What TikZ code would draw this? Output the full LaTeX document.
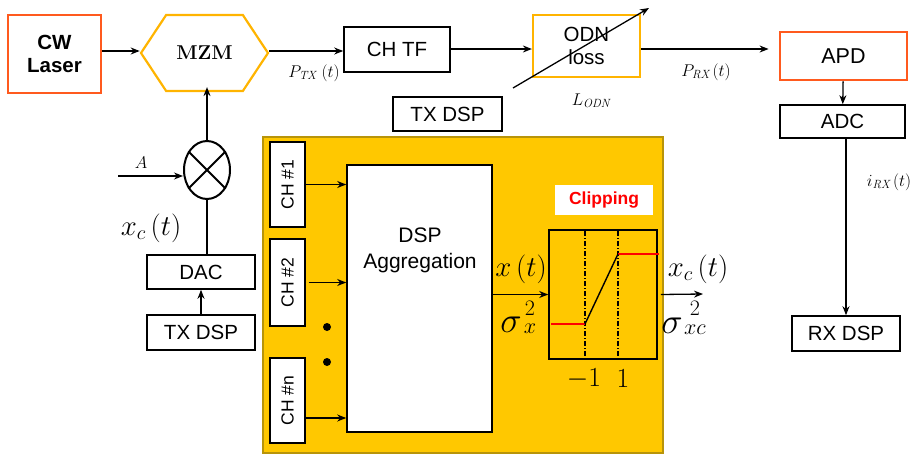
\RequirePackage{fix-cm}
\documentclass[tikz,border=0pt]{standalone}
\usepackage{fontspec}
\setsansfont{Liberation Sans}
\usetikzlibrary{arrows.meta,shapes.geometric,shapes.symbols}
\definecolor{laserred}{HTML}{FF5A1E}
\definecolor{mzmorange}{HTML}{FFB400}
\definecolor{yfill}{HTML}{FFC800}
\definecolor{yborder}{HTML}{B8940A}
\begin{document}
\begin{tikzpicture}[x=1pt,y=-1pt,
  box/.style={draw=black,line width=1.6pt,fill=white,inner sep=0pt,font=\sffamily\fontsize{20.5}{23}\selectfont,align=center},
  obox/.style={box,draw=laserred,line width=2.8pt},
  ybox/.style={box,draw=mzmorange,line width=2.2pt},
  chbox/.style={box,line width=1.4pt,minimum width=35pt,font=\sffamily\fontsize{17.5}{19}\selectfont},
  arr/.style={-{Stealth[length=9pt,width=7pt]},line width=1.3pt},
  lab/.style={inner sep=0pt,font=\fontsize{17}{19}\selectfont},
  biglab/.style={inner sep=0pt,font=\fontsize{24}{26}\selectfont},
  siglab/.style={inner sep=0pt,font=\fontsize{24}{26}\selectfont},
  suplab/.style={inner sep=0pt,font=\fontsize{17}{18}\selectfont},
  sublab/.style={inner sep=0pt,font=\fontsize{17}{18}\selectfont},
  ddot/.style={line width=1.2pt,dash pattern=on 5pt off 2pt on 1pt off 2pt}
]
\useasboundingbox (0,0) rectangle (911,458);
% yellow TX DSP frame
\node[draw=yborder,fill=yfill,line width=2pt,minimum width=400pt,minimum height=316pt,inner sep=0pt] (frame) at (463,295) {};
% top row
\node[obox,minimum width=93pt,minimum height=78pt,font=\sffamily\bfseries\fontsize{20.5}{23}\selectfont] (cw) at (54.5,54) {CW\\Laser};
\node[draw=mzmorange,line width=2.2pt,fill=white,shape=signal,signal to=west and east,signal pointer angle=113,minimum width=127pt,minimum height=76pt,inner sep=0pt,font=\rmfamily\bfseries\fontsize{20}{22}\selectfont] (mzm) at (204.5,53) {MZM};
\node[box,minimum width=106pt,minimum height=45pt] (chtf) at (397,49.5) {CH TF};
\node[ybox,minimum width=107pt,minimum height=62pt] (odn) at (586.5,46) {ODN\\loss};
\node[obox,minimum width=127pt,minimum height=48pt,font=\sffamily\fontsize{21.5}{23}\selectfont] (apd) at (843.5,56) {APD};
\node[box,minimum width=125pt,minimum height=33pt] (adc) at (842.5,121.5) {ADC};
\node[box,minimum width=108pt,minimum height=35pt] (rxdsp) at (846,333.5) {RX DSP};
\node[box,line width=2.4pt,minimum width=109pt,minimum height=34pt] (txdsptop) at (447.5,114) {TX DSP};
% left modulation chain
\node[draw,ellipse,line width=2pt,minimum width=46pt,minimum height=58pt,inner sep=0pt] (mult) at (207,170) {};
\draw[line width=2pt] (mult.45) -- (mult.225) (mult.135) -- (mult.315);
\node[box,minimum width=108pt,minimum height=34pt] (dac) at (201,272) {DAC};
\node[box,minimum width=108pt,minimum height=35pt] (txdsp) at (201,332.5) {TX DSP};
\coordinate (ain) at (118,176);
% channels
\node[chbox,minimum height=85pt] (ch1) at (287.5,184.5) {\rotatebox{90}{CH \#1}};
\node[chbox,minimum height=87pt] (ch2) at (287.5,282.5) {\rotatebox{90}{CH \#2}};
\node[chbox,minimum height=85pt] (chn) at (287.5,400.5) {\rotatebox{90}{CH \#n}};
\fill (327,327) circle (4pt) (327,362) circle (4pt);
\node[box,minimum width=145pt,minimum height=267pt] (agg) at (419.5,298.5) {};
\node[inner sep=0pt,align=center,font=\sffamily\fontsize{21}{26}\selectfont] (aggtxt) at (420,250) {DSP\\Aggregation};
% clipping
\node[draw,line width=1.6pt,fill=yfill,minimum width=108pt,minimum height=129pt,inner sep=0pt] (clip) at (603,294.5) {};
\node[fill=white,minimum width=98pt,minimum height=30pt,inner sep=0pt,text=red,font=\sffamily\bfseries\fontsize{17.5}{19}\selectfont] (cliplab) at (604,200) {Clipping};
\draw[ddot] (585,231) -- (585,358) (618,231) -- (618,358);
\draw[red,line width=1.4pt] (551,324) -- (585,324) (618,254) -- (659,254);
\draw[line width=1.4pt] (585,324) -- (618,254);
\node[biglab] (m1) at (584,379) {\scalebox{1.15}{$-1$}};
\node[biglab] (p1) at (623,379) {\scalebox{1.15}{$1$}};
\coordinate (xcout) at (703,294);
% connectors
\draw[arr] (cw.east |- 0,51) -- (mzm.west |- 0,51);
\draw[arr] (mzm.east |- 0,51) -- (chtf.west |- 0,51);
\draw[arr] (chtf.east |- 0,49) -- (odn.west |- 0,49);
\draw[arr] (odn.east |- 0,49) -- ([xshift=-10pt]apd.west |- 0,49);
\draw[arr] (apd) -- (adc);
\draw[arr] (adc.south -| rxdsp.north) -- (rxdsp.north);
\draw[arr] (mult.north) -- ([yshift=5pt]mult.north |- mzm.south);
\draw[arr] (ain) -- (mult.west |- ain);
\draw[line width=1.3pt] (dac.north -| mult.south) -- (mult.south);
\draw[arr] (txdsp) -- (dac);
\draw[arr] (ch1.east) -- (ch1.east -| agg.west);
\draw[arr] ([xshift=3pt]ch2.east) -- (ch2.east -| agg.west);
\draw[arr] ([yshift=-17.5pt]chn.east) -- ([yshift=-17.5pt]chn.east -| agg.west);
\draw[arr] (agg.east |- clip.west) -- (clip.west);
\draw[arr] ([xshift=3pt]clip.east) -- (xcout);
\coordinate (odnA) at (513,88);
\coordinate (odnB) at (649,8);
\draw[arr] (odnA) -- (odnB);
% labels
\node[lab] (ptx) at (314,73) {$P_{\mathit{TX}}\ (t)$};
\node[lab] (prx) at (706,72) {$P_{\mathit{RX}}\,(t)$};
\node[lab] (lodn) at (591,101) {$L_{\mathit{ODN}}$};
\node[lab] (irx) at (889,182) {$i_{\mathit{RX}}\,(t)$};
\node[lab] (alab) at (141,163) {$A$};
\node[biglab] (xclab) at (151,228) {\scalebox{1.2}{$x_c\,\bigl(t\bigr)$}};
\node[biglab] (xlab) at (521,269) {\scalebox{1.2}{$x\,\bigl(t\bigr)$}};
\node[siglab] (sx) at (511,325) {\scalebox{1.5}{$\sigma$}};
\node[suplab] (sx2) at (530,308) {\scalebox{1.3}{$2$}};
\node[sublab] (sxx) at (530,329) {\scalebox{1.3}{$x$}};
\node[biglab] (xcout2) at (698,269) {\scalebox{1.2}{$x_c\,\bigl(t\bigr)$}};
\node[siglab] (sxc) at (672,326) {\scalebox{1.5}{$\sigma$}};
\node[suplab] (sxc2) at (695,308) {\scalebox{1.3}{$2$}};
\node[sublab] (sxcc) at (695,330) {\scalebox{1.3}{$xc$}};
\end{tikzpicture}
\end{document}
